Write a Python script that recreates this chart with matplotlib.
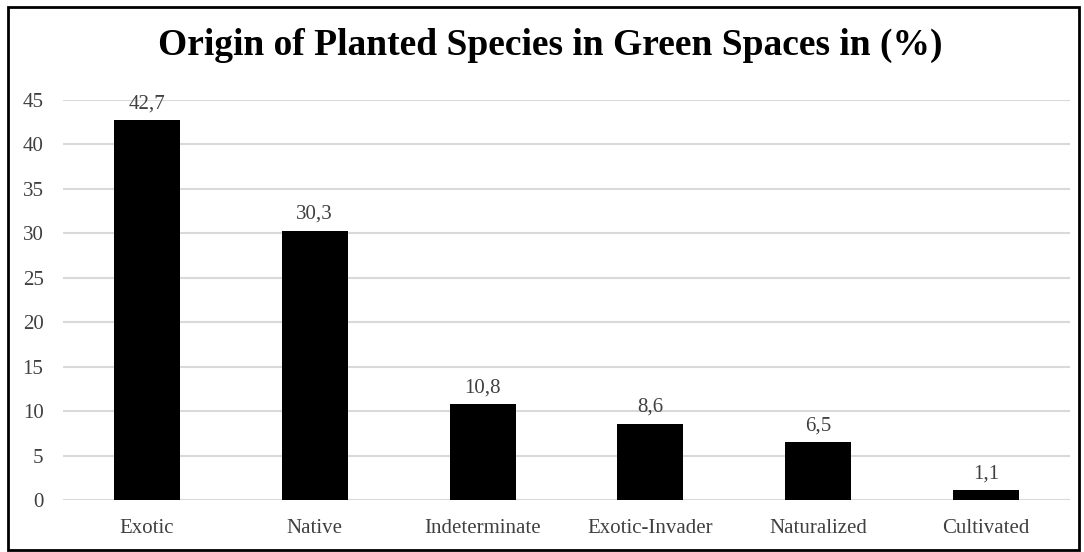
import matplotlib.pyplot as plt
from matplotlib.patches import Rectangle

# Origin categories and their share of planted species (%)
categories = ["Exotic", "Native", "Indeterminate", "Exotic-Invader", "Naturalized", "Cultivated"]
percent = [42.7, 30.3, 10.8, 8.6, 6.5, 1.1]
y_ticks = [0, 5, 10, 15, 20, 25, 30, 35, 40, 45]

plt.rcParams['font.family'] = ['Liberation Serif', 'DejaVu Serif']
text_color = '#404040'

fig = plt.figure(figsize=(10.84, 5.52), dpi=100)
ax = fig.add_axes([0.0581, 0.0942, 0.929, 0.7246])

x = range(len(categories))
bars = ax.bar(x, percent, width=0.393, color='black', zorder=3)

# value labels with comma decimals
for bar, val in zip(bars, percent):
    ax.annotate(f"{val:.1f}".replace('.', ','),
                (bar.get_x() + bar.get_width() / 2, bar.get_height()),
                xytext=(0, 5), textcoords='offset points',
                ha='center', va='bottom', fontsize=15, color=text_color)

ax.set_xlim(-0.5, len(categories) - 0.5)
ax.set_ylim(0, 45)
ax.set_yticks(y_ticks)
ax.set_xticks(list(x))
ax.set_xticklabels(categories)
ax.yaxis.grid(True, color='#d9d9d9', linewidth=1.5, zorder=0)
ax.tick_params(axis='both', length=0, labelsize=15, labelcolor=text_color)
ax.tick_params(axis='y', pad=14)
ax.tick_params(axis='x', pad=14)
for s in ax.spines.values():
    s.set_visible(False)

fig.text(0.508, 0.917, "Origin of Planted Species in Green Spaces in (%)",
         ha='center', va='center', fontsize=27, fontweight='bold', color='black')

# outer frame
fig.patches.append(Rectangle((0.007, 0.004), 0.988, 0.984, transform=fig.transFigure,
                             fill=False, edgecolor='black', linewidth=2))

fig.savefig("out.png", dpi=100)
